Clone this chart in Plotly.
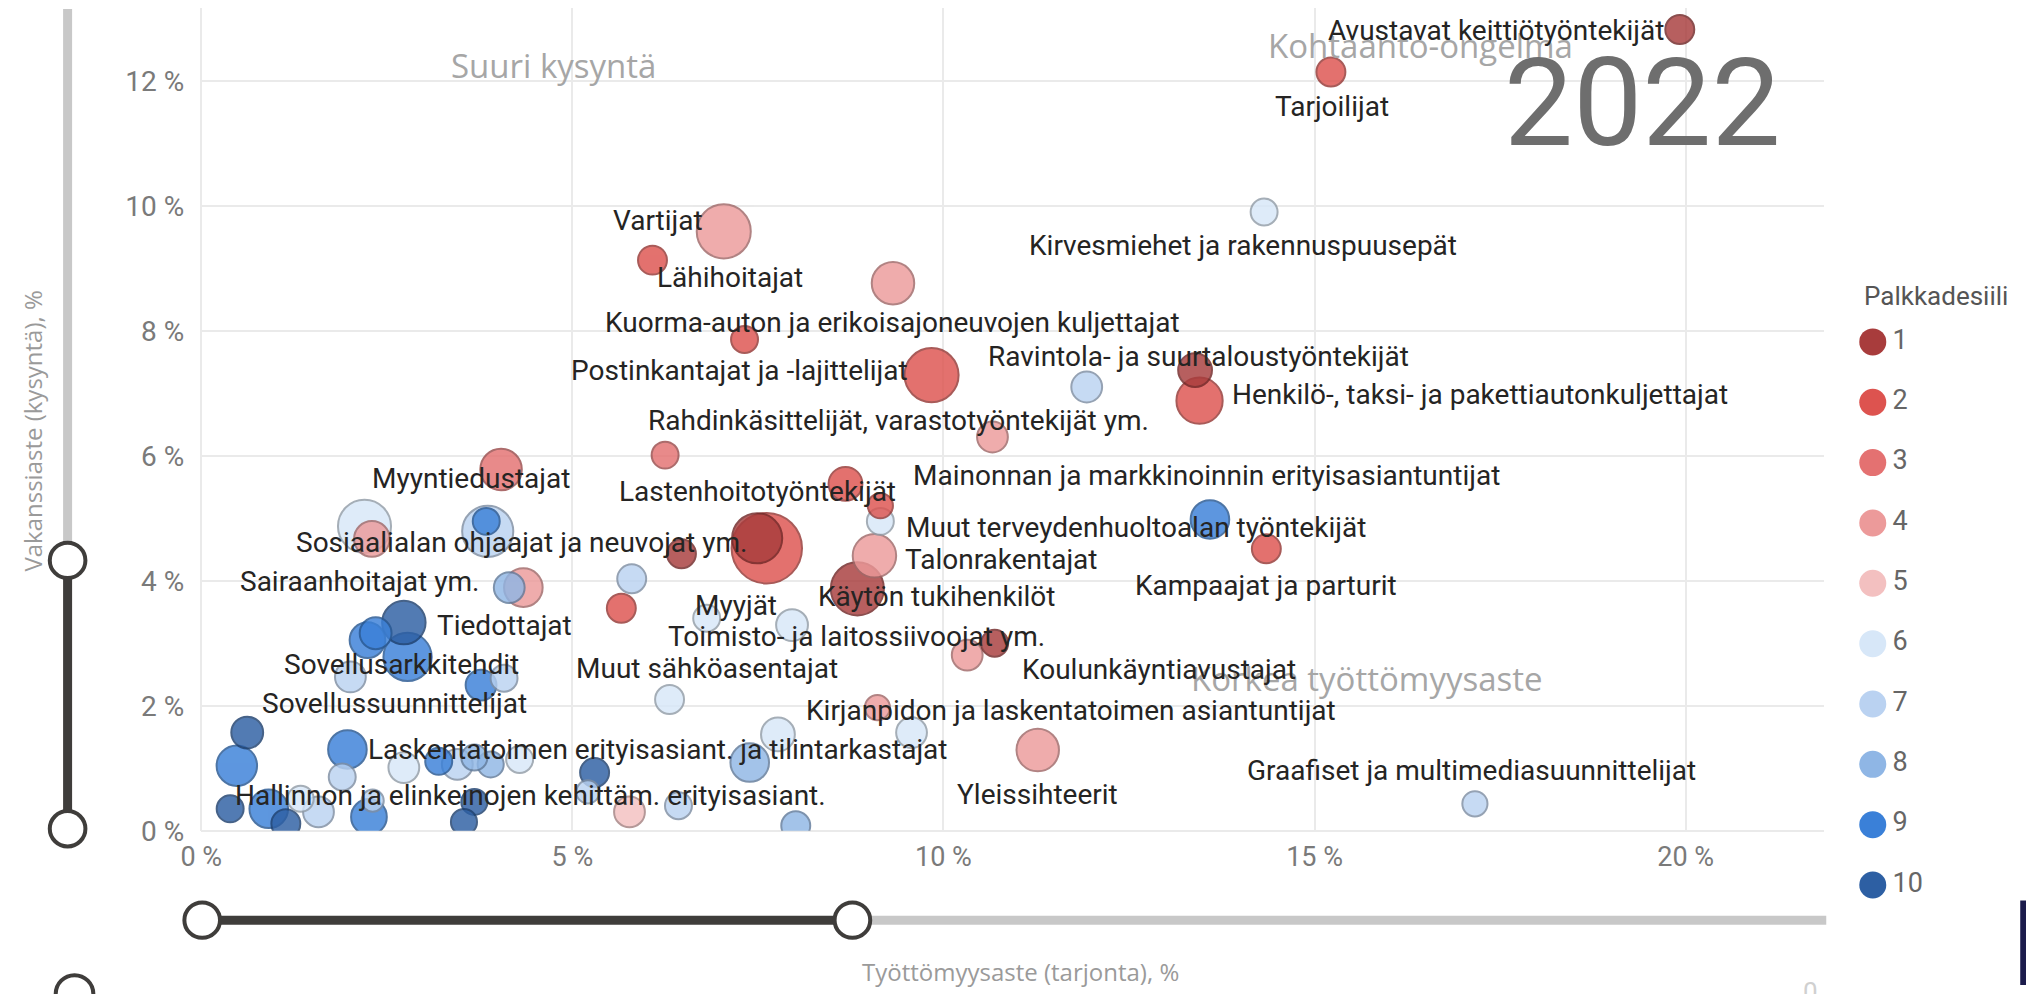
import plotly.graph_objects as go

W, H = 2034, 994

# ---------------- data ----------------
tyottomyysaste = [19.92, 15.22, 14.32, 7.04, 6.08, 9.32, 7.32, 9.84, 11.93, 13.39,
                  13.45, 10.66, 6.25, 4.04, 8.68, 9.15, 9.15, 7.62, 7.49, 6.47,
                  9.07, 8.84, 13.59, 14.35, 5.80, 5.66, 2.20, 2.30, 3.86, 3.84,
                  4.34, 4.15, 2.73, 2.24, 2.35, 2.78, 2.01, 3.77, 4.08, 6.81,
                  7.96, 10.32, 10.69, 6.31, 9.11, 7.77, 7.39, 9.57, 11.27, 17.16,
                  8.01, 6.43, 5.77, 5.30, 5.21, 3.68, 3.54, 4.29, 3.90, 3.68,
                  3.45, 3.20, 2.73, 2.31, 2.26, 1.97, 1.90, 1.58, 1.34, 1.14,
                  0.91, 0.39, 0.48, 0.62]
vakanssiaste = [12.82, 12.14, 9.90, 9.59, 9.13, 8.76, 7.86, 7.29, 7.10, 7.37,
                6.88, 6.30, 6.01, 5.78, 5.55, 5.20, 4.95, 4.52, 4.68, 4.43,
                4.40, 3.87, 4.98, 4.51, 4.03, 3.56, 4.87, 4.67, 4.79, 4.95,
                3.89, 3.89, 3.33, 3.05, 3.16, 2.78, 2.46, 2.33, 2.44, 3.40,
                3.29, 2.81, 3.00, 2.10, 1.97, 1.54, 1.09, 1.57, 1.29, 0.43,
                0.08, 0.40, 0.30, 0.93, 0.62, 0.46, 0.14, 1.14, 1.06, 1.17,
                1.06, 1.11, 1.01, 0.48, 0.22, 1.30, 0.86, 0.30, 0.51, 0.11,
                0.35, 0.35, 1.04, 1.57]
palkkadesiili = [1, 2, 6, 4, 2, 4, 2, 2, 7, 1,
                 2, 4, 3, 3, 2, 2, 6, 2, 1, 1,
                 4, 1, 9, 2, 7, 2, 6, 4, 7, 9,
                 4, 8, 10, 9, 9, 9, 7, 9, 7, 6,
                 6, 4, 1, 6, 4, 6, 8, 6, 4, 7,
                 8, 7, 5, 10, 7, 10, 10, 6, 8, 8,
                 7, 9, 6, 7, 9, 9, 7, 7, 6, 10,
                 9, 10, 9, 10]
tyolliset = [90, 90, 78, 314, 90, 194, 78, 314, 102, 123,
             230, 102, 78, 185, 123, 68, 78, 533, 270, 90,
             203, 303, 160, 90, 90, 90, 303, 137, 281, 78,
             160, 102, 203, 137, 109, 250, 102, 102, 78, 78,
             109, 102, 78, 90, 68, 123, 160, 102, 194, 68,
             90, 78, 102, 90, 58, 73, 73, 78, 73, 73,
             102, 78, 102, 53, 137, 160, 78, 102, 73, 90,
             160, 78, 176, 109]

ammatit = ["Avustavat keittiötyöntekijät", "Tarjoilijat", "Vartijat",
           "Kirvesmiehet ja rakennuspuusepät", "Lähihoitajat",
           "Kuorma-auton ja erikoisajoneuvojen kuljettajat",
           "Ravintola- ja suurtaloustyöntekijät", "Postinkantajat ja -lajittelijat",
           "Henkilö-, taksi- ja pakettiautonkuljettajat",
           "Rahdinkäsittelijät, varastotyöntekijät ym.", "Myyntiedustajat",
           "Mainonnan ja markkinoinnin erityisasiantuntijat", "Lastenhoitotyöntekijät",
           "Muut terveydenhuoltoalan työntekijät", "Sosiaalialan ohjaajat ja neuvojat ym.",
           "Talonrakentajat", "Sairaanhoitajat ym.", "Kampaajat ja parturit",
           "Käytön tukihenkilöt", "Myyjät", "Tiedottajat",
           "Toimisto- ja laitossiivoojat ym.", "Sovellusarkkitehdit",
           "Koulunkäyntiavustajat", "Muut sähköasentajat", "Sovellussuunnittelijat",
           "Kirjanpidon ja laskentatoimen asiantuntijat",
           "Laskentatoimen erityisasiant. ja tilintarkastajat",
           "Graafiset ja multimediasuunnittelijat",
           "Hallinnon ja elinkeinojen kehittäm. erityisasiant.", "Yleissihteerit"]
ammatti_x = [17.45, 15.23, 6.15, 14.04, 7.13, 9.32, 13.43, 7.25, 17.23, 9.40,
             3.64, 13.55, 7.49, 12.60, 4.32, 10.78, 2.13, 14.34, 9.90, 7.20,
             4.09, 8.83, 2.70, 12.91, 6.81, 2.60, 11.72, 6.15, 17.11, 4.43, 11.27]
ammatti_y = [12.81, 11.59, 9.77, 9.36, 8.86, 8.14, 7.58, 7.37, 6.98, 6.57,
             5.64, 5.68, 5.43, 4.85, 4.61, 4.34, 3.99, 3.92, 3.74, 3.61,
             3.28, 3.10, 2.66, 2.58, 2.60, 2.04, 1.92, 1.30, 0.97, 0.56, 0.58]

kvadrantit = ["Suuri kysyntä", "Kohtaanto-ongelma", "Korkea työttömyysaste"]
kvadrantti_x = [4.75, 16.43, 15.70]
kvadrantti_y = [12.25, 12.56, 2.44]

x_ticks = [0, 5, 10, 15, 20]
y_ticks = [0, 2, 4, 6, 8, 10, 12]
vuosi = "2022"
desiilit = list(range(1, 11))

# ---------------- styles ----------------
desiili_varit = ["#A83C3C", "#DD534F", "#E47171", "#EC9A9A", "#F3C0C0",
                 "#D7E7F8", "#BAD2F1", "#8FB6E5", "#3A80D8", "#2D5FA3"]


def darker(hexc, f=0.68):
    r, g, b = int(hexc[1:3], 16), int(hexc[3:5], 16), int(hexc[5:7], 16)
    return "rgb(%d,%d,%d)" % (r * f, g * f, b * f)


reuna_varit = [darker(c) for c in desiili_varit]

LABEL_FONT = "Roboto, 'Liberation Sans', sans-serif"
TITLE_FONT = "'Open Sans', 'Liberation Sans', sans-serif"

# plot area in pixels
PL, PR, PT, PB = 174, 1814, 0, 837
X_MAX = (PR - PL) / 75.0
Y_MAX = (PB - PT) / 63.58

# draw big bubbles first so small ones sit on top
order = sorted(range(len(tyolliset)), key=lambda i: -tyolliset[i])

fig = go.Figure()
fig.add_trace(go.Scatter(
    x=[tyottomyysaste[i] for i in order],
    y=[vakanssiaste[i] for i in order],
    mode="markers",
    marker=dict(
        size=[tyolliset[i] for i in order],
        sizemode="area", sizeref=0.215,
        color=[desiili_varit[palkkadesiili[i] - 1] for i in order],
        opacity=0.82,
        line=dict(color=[reuna_varit[palkkadesiili[i] - 1] for i in order], width=2),
    ),
    showlegend=False, hoverinfo="skip",
))

# custom legend on its own axes
LEG_X0 = 1845
fig.add_trace(go.Scatter(
    x=[(1863 - LEG_X0) / (W - LEG_X0)] * len(desiilit), y=desiilit,
    xaxis="x2", yaxis="y2", mode="markers",
    marker=dict(size=27, color=desiili_varit),
    showlegend=False, hoverinfo="skip", cliponaxis=False,
))
fig.add_trace(go.Scatter(
    x=[(1883 - LEG_X0) / (W - LEG_X0)] * len(desiilit), y=desiilit,
    xaxis="x2", yaxis="y2", mode="text",
    text=[str(d) for d in desiilit], textposition="middle right",
    textfont=dict(family=LABEL_FONT, size=27, color="#666666"),
    showlegend=False, hoverinfo="skip", cliponaxis=False,
))

annotations = []
for t, x, y in zip(kvadrantit, kvadrantti_x, kvadrantti_y):
    annotations.append(dict(text=t, x=x, y=y, xref="x", yref="y", showarrow=False,
                            font=dict(family=TITLE_FONT, size=33, color="#A6A6A6"),
                            xanchor="center", yanchor="middle"))
annotations.append(dict(text=vuosi, x=1630 / W, y=1 - 97 / H, xref="paper", yref="paper",
                        showarrow=False, xanchor="center", yanchor="middle",
                        font=dict(family=LABEL_FONT, size=123, color="#6E6E6E")))
for t, x, y in zip(ammatit, ammatti_x, ammatti_y):
    annotations.append(dict(text=t, x=x, y=y, xref="x", yref="y", showarrow=False,
                            font=dict(family=LABEL_FONT, size=28, color="#252423"),
                            xanchor="center", yanchor="middle"))
annotations.append(dict(text="Palkkadesiili", x=1852 / W, y=1 - 293 / H, xref="paper",
                        yref="paper", showarrow=False, xanchor="left", yanchor="middle",
                        font=dict(family=LABEL_FONT, size=26, color="#555555")))
annotations.append(dict(text="Vakanssiaste (kysyntä), %", x=4 / W, y=1 - 430 / H,
                        xref="paper", yref="paper", showarrow=False, textangle=-90,
                        xanchor="center", yanchor="middle",
                        font=dict(family=TITLE_FONT, size=24, color="#9A9A9A")))
annotations.append(dict(text="Työttömyysaste (tarjonta), %", x=1002 / W, y=1 - 980 / H,
                        xref="paper", yref="paper", showarrow=False,
                        xanchor="center", yanchor="middle",
                        font=dict(family=TITLE_FONT, size=24, color="#9A9A9A")))
annotations.append(dict(text="0", x=1800 / W, y=1 - 984 / H, xref="paper", yref="paper",
                        showarrow=False, xanchor="center", yanchor="top",
                        font=dict(family=LABEL_FONT, size=26, color="#D0D0D0")))


def px(x):
    return x / W


def py(y):
    return 1 - y / H


DARK, LIGHT = "#3F3D3B", "#C8C8C8"
shapes = []


def line(x0, y0, x1, y1, color, width):
    shapes.append(dict(type="line", xref="paper", yref="paper", x0=px(x0), y0=py(y0),
                       x1=px(x1), y1=py(y1), line=dict(color=color, width=width),
                       layer="below"))


def circle(cx, cy, r):
    shapes.append(dict(type="circle", xref="paper", yref="paper",
                       x0=px(cx - r), x1=px(cx + r), y0=py(cy + r), y1=py(cy - r),
                       fillcolor="white", line=dict(color=DARK, width=4)))


# vertical slider
line(39, 1, 39, 562, LIGHT, 9)
line(39, 562, 39, 835, DARK, 9)
circle(39, 562, 18)
circle(39, 835, 18)
# horizontal slider
line(175, 928, 832, 928, DARK, 9)
line(832, 928, 1816, 928, LIGHT, 9)
circle(175, 928, 18)
circle(832, 928, 18)
# partial handle at the bottom left
circle(46, 1003, 19)
# dark edge at the right bottom
shapes.append(dict(type="rect", xref="paper", yref="paper", x0=px(2012), x1=1.0,
                   y0=0, y1=py(908), fillcolor="#1B1B4B", line=dict(width=0)))

fig.update_layout(
    width=W, height=H,
    margin=dict(l=0, r=0, t=0, b=0),
    paper_bgcolor="white", plot_bgcolor="white",
    xaxis=dict(domain=[PL / W, PR / W], range=[0, X_MAX],
               tickvals=x_ticks, ticktext=["%d %%" % v for v in x_ticks],
               showgrid=True, gridcolor="#EAEAEA", gridwidth=2,
               zeroline=True, zerolinecolor="#EAEAEA", zerolinewidth=2,
               showline=False, ticks="", ticklabelstandoff=7,
               tickfont=dict(family=LABEL_FONT, size=27, color="#7A7A7A")),
    yaxis=dict(domain=[1 - PB / H, 1 - PT / H], range=[0, Y_MAX],
               tickvals=y_ticks, ticktext=["%d %%" % v for v in y_ticks],
               showgrid=True, gridcolor="#EAEAEA", gridwidth=2,
               zeroline=True, zerolinecolor="#EAEAEA", zerolinewidth=2,
               showline=False, ticks="", ticklabelstandoff=16,
               tickfont=dict(family=LABEL_FONT, size=28, color="#7A7A7A")),
    xaxis2=dict(domain=[LEG_X0 / W, 1.0], range=[0, 1], visible=False, anchor="y2"),
    yaxis2=dict(domain=[1 - 923 / H, 1 - 309 / H], range=[10.5, 0.5], visible=False,
                anchor="x2"),
    annotations=annotations,
    shapes=shapes,
    showlegend=False,
)

fig.write_html("out.html")
